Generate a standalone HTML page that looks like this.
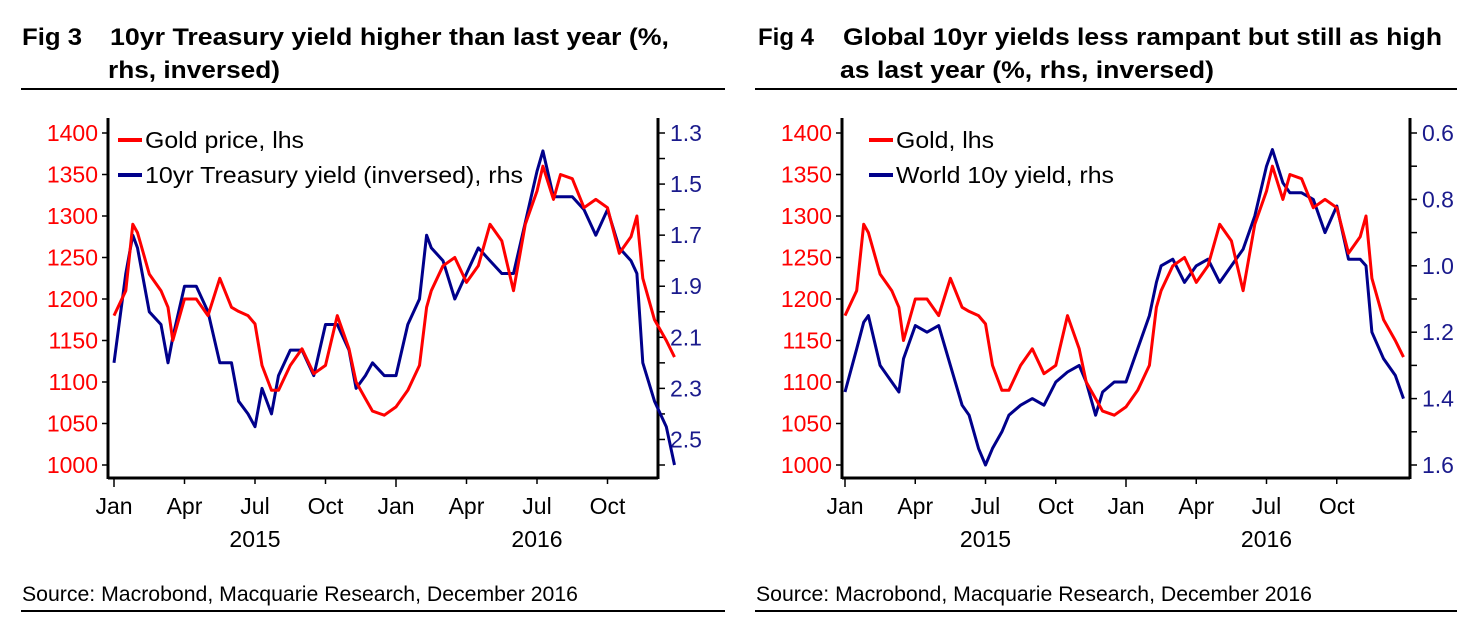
<!DOCTYPE html>
<html><head><meta charset="utf-8">
<style>
body{margin:0;background:#fff;width:1462px;height:622px;overflow:hidden;font-family:"Liberation Sans",Arial,sans-serif}
svg{display:block}
</style></head>
<body>
<svg id="svg" width="1462" height="622" xmlns="http://www.w3.org/2000/svg"></svg>
<script>
// time in months since Jan 2015
const months=[0,0.5,0.8,1,1.5,2,2.3,2.5,3,3.5,4,4.5,5,5.3,5.7,6,6.3,6.7,7,7.5,8,8.5,9,9.5,10,10.3,10.7,11,11.5,12,12.5,13,13.3,13.5,14,14.5,15,15.5,16,16.5,17,17.5,18,18.25,18.7,19,19.5,20,20.5,21,21.5,22,22.25,22.5,23,23.5,23.85];
const gold=[1180,1210,1290,1280,1230,1210,1190,1150,1200,1200,1180,1225,1190,1185,1180,1170,1120,1090,1090,1120,1140,1110,1120,1180,1140,1100,1080,1065,1060,1070,1090,1120,1190,1210,1240,1250,1220,1240,1290,1270,1210,1290,1330,1360,1320,1350,1345,1310,1320,1310,1255,1275,1300,1225,1175,1150,1130];
const ust=[2.2,1.85,1.7,1.75,2.0,2.05,2.2,2.1,1.9,1.9,2.0,2.2,2.2,2.35,2.4,2.45,2.3,2.4,2.25,2.15,2.15,2.25,2.05,2.05,2.15,2.3,2.25,2.2,2.25,2.25,2.05,1.95,1.7,1.75,1.8,1.95,1.85,1.75,1.8,1.85,1.85,1.65,1.45,1.37,1.55,1.55,1.55,1.6,1.7,1.6,1.75,1.8,1.85,2.2,2.35,2.45,2.6];
const world=[1.38,1.25,1.17,1.15,1.3,1.35,1.38,1.28,1.18,1.2,1.18,1.3,1.42,1.45,1.55,1.6,1.55,1.5,1.45,1.42,1.4,1.42,1.35,1.32,1.3,1.35,1.45,1.38,1.35,1.35,1.25,1.15,1.05,1.0,0.98,1.05,1.0,0.98,1.05,1.0,0.95,0.85,0.7,0.65,0.75,0.78,0.78,0.8,0.9,0.82,0.98,0.98,1.0,1.2,1.28,1.33,1.4];
const leftTicks=[1000,1050,1100,1150,1200,1250,1300,1350,1400];
const ustTicks=[1.3,1.5,1.7,1.9,2.1,2.3,2.5];
const worldTicks=[0.6,0.8,1.0,1.2,1.4,1.6];
const monthLabels=["Jan","Apr","Jul","Oct","Jan","Apr","Jul","Oct"];
const monthPos=[0,3,6,9,12,15,18,21];
const yearLabels=["2015","2016"];

const NS="http://www.w3.org/2000/svg";
const svg=document.getElementById('svg');
function el(tag,attrs,parent,text){const e=document.createElementNS(NS,tag);for(const k in attrs)e.setAttribute(k,attrs[k]);if(text!==undefined)e.textContent=text;(parent||svg).appendChild(e);return e;}

function chart(cfg){
  const g=el('g',{});
  
  
  const L=cfg.L,R=cfg.R,T=118,B=478;
  const x=m=>cfg.x0+(m)*(cfg.x12-cfg.x0)/12;
  const yL=v=>133+(1400-v)*(465-133)/400;
  const yR=v=>133+(v-cfg.r0)*(465-133)/(cfg.r1-cfg.r0);
  // title
  const f=el('text',{x:cfg.tx,y:45,'font-size':24,'font-weight':'bold',fill:'#000',textLength:cfg.fl,lengthAdjust:'spacingAndGlyphs'},g,cfg.fig);
  
  const t1=el('text',{x:cfg.tx2,y:45,'font-size':24,'font-weight':'bold',fill:'#000',textLength:cfg.tl1,lengthAdjust:'spacingAndGlyphs'},g,cfg.title1);
  
  const t2=el('text',{x:cfg.tx3,y:78,'font-size':24,'font-weight':'bold',fill:'#000',textLength:cfg.tl2,lengthAdjust:'spacingAndGlyphs'},g,cfg.title2);
  
  const hl=el('line',{x1:cfg.hx1,x2:cfg.hx2,y1:89,y2:89,stroke:'#000','stroke-width':2},g);
  
  const fl=el('line',{x1:cfg.hx1,x2:cfg.hx2,y1:611,y2:611,stroke:'#000','stroke-width':2},g);
  
  const src=el('text',{x:cfg.hx1+1,y:601,'font-size':21,fill:'#000',textLength:556,lengthAdjust:'spacingAndGlyphs'},g,'Source: Macrobond, Macquarie Research, December 2016');
  
  // axes
  const la=el('line',{x1:L,x2:L,y1:T,y2:B+1,stroke:'#000','stroke-width':3},g);
  
  const ra=el('line',{x1:R,x2:R,y1:T,y2:B+1,stroke:'#000','stroke-width':3},g);
  
  const ba=el('line',{x1:L,x2:R,y1:B,y2:B,stroke:'#000','stroke-width':3},g);
  
  leftTicks.forEach(v=>{
    const tk=el('line',{x1:L-6,x2:L,y1:yL(v),y2:yL(v),stroke:'#000','stroke-width':1.5},g);
    
    const lb=el('text',{x:L-10,y:yL(v)+8,'font-size':23,fill:'#ff0000','text-anchor':'end'},g,String(v));
    
  });
  for(let v=cfg.r0;v<=cfg.r1+1e-6;v+=0.1){
    const tk=el('line',{x1:R,x2:R+7,y1:yR(v),y2:yR(v),stroke:'#000','stroke-width':1.5},g);
    
  }
  cfg.rticks.forEach(v=>{
    const lb=el('text',{x:R+12,y:yR(v)+8,'font-size':23,fill:'#1a1a8c'},g,v.toFixed(1));
    
  });
  for(let m=0;m<=21;m+=3){
    const tk=el('line',{x1:x(m),x2:x(m),y1:B,y2:B+(m%12===0?9:6),stroke:'#000','stroke-width':1.5},g);
    
  }
  monthLabels.forEach((s,i)=>{
    const lb=el('text',{x:x(monthPos[i]),y:514,'font-size':23,fill:'#000','text-anchor':'middle'},g,s);
    
  });
  yearLabels.forEach((s,i)=>{
    const lb=el('text',{x:x(6+12*i),y:547,'font-size':23,fill:'#000','text-anchor':'middle'},g,s);
    
  });
  // series
  const pb=months.map((m,i)=>x(m).toFixed(1)+','+yR(cfg.yield[i]).toFixed(1)).join(' ');
  const blue=el('polyline',{points:pb,fill:'none',stroke:'#00008b','stroke-width':3,'stroke-linejoin':'round'},g);
  
  const pr=months.map((m,i)=>x(m).toFixed(1)+','+yL(gold[i]).toFixed(1)).join(' ');
  const red=el('polyline',{points:pr,fill:'none',stroke:'#ff0000','stroke-width':3,'stroke-linejoin':'round'},g);
  
  // legend
  const lg=el('g',{},g);
  const e1=el('line',{x1:cfg.lx,x2:cfg.lx+24,y1:140,y2:140,stroke:'#ff0000','stroke-width':4},lg);
  
  const e1t=el('text',{x:cfg.lx+27,y:148,'font-size':23,fill:'#000',textLength:cfg.l1w,lengthAdjust:'spacingAndGlyphs'},lg,cfg.leg1);
  
  const e2=el('line',{x1:cfg.lx,x2:cfg.lx+24,y1:175,y2:175,stroke:'#00008b','stroke-width':4},lg);
  
  const e2t=el('text',{x:cfg.lx+27,y:183,'font-size':23,fill:'#000',textLength:cfg.l2w,lengthAdjust:'spacingAndGlyphs'},lg,cfg.leg2);
  
}
chart({name:'fig3-chart',L:108,R:658,x0:114,x12:396,r0:1.3,r1:2.6,rticks:ustTicks,yield:ust,
  tx:22,fl:60,tx2:110,tx3:108,tl1:559,tl2:172,fig:'Fig 3',title1:'10yr Treasury yield higher than last year (%,',title2:'rhs, inversed)',
  hx1:21,hx2:725,lx:118,leg1:'Gold price, lhs',leg2:'10yr Treasury yield (inversed), rhs',l1w:159,l2w:378});
chart({name:'fig4-chart',L:842,R:1410,x0:845,x12:1126,r0:0.6,r1:1.6,rticks:worldTicks,yield:world,
  tx:758,fl:56,tx2:843,tx3:840,tl1:599,tl2:374,fig:'Fig 4',title1:'Global 10yr yields less rampant but still as high',title2:'as last year (%, rhs, inversed)',
  hx1:755,hx2:1457,lx:869,leg1:'Gold, lhs',leg2:'World 10y yield, rhs',l1w:98,l2w:218});
</script>
</body></html>
